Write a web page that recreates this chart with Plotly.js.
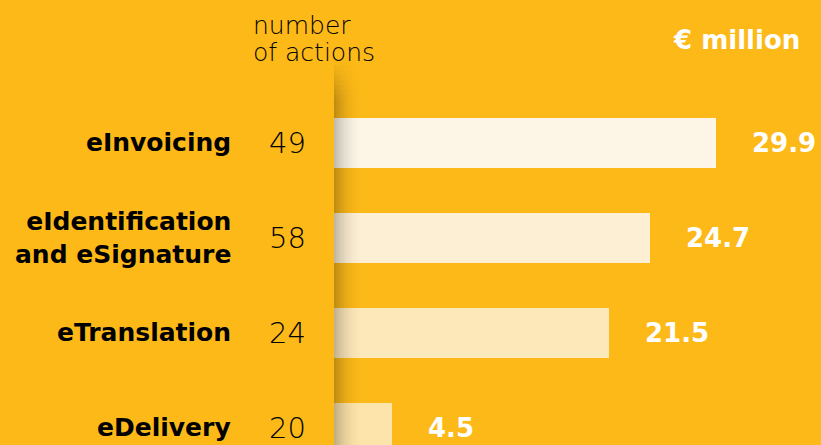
<!DOCTYPE html>
<html>
<head>
<meta charset="utf-8">
<script src="https://cdn.plot.ly/plotly-3.0.1.min.js"></script>
<style>
  html, body { margin: 0; padding: 0; background: #FCB918; }
  #chart { width: 821px; height: 445px; }
</style>
</head>
<body>
<div id="chart"></div>
<script>
// ---- data ----
const categories = ['eInvoicing', 'eIdentification and eSignature', 'eTranslation', 'eDelivery'];
const categoryLabels = ['eInvoicing', 'eIdentification<br>and eSignature', 'eTranslation', 'eDelivery'];
const fundingMillion = [29.9, 24.7, 21.5, 4.5];
const numberOfActions = [49, 58, 24, 20];
const headerLines = ['number', 'of actions'];
const unitLabel = '€ million';

// ---- styles ----
const BG = '#FCB918';
const barColors = ['#FDF6E7', '#FDEFD3', '#FDE8BA', '#FDE4AA'];
const W = 821, H = 445, LEFT = 334;
const plotW = W - LEFT;
const pxPerUnit = 12.78;
const px2paperX = p => (p - LEFT) / plotW;
const px2paperY = p => 1 - p / H;

const trace = {
  type: 'bar',
  orientation: 'h',
  x: fundingMillion,
  y: categories,
  width: 0.526,
  marker: { color: barColors, line: { width: 0 } },
  hoverinfo: 'none',
  showlegend: false
};

const annotations = [];
categories.forEach((c, i) => {
  annotations.push({
    xref: 'paper', yref: 'y', x: px2paperX(233), y: c,
    xanchor: 'right', yanchor: 'middle', align: 'right',
    text: categoryLabels[i], showarrow: false,
    font: { family: 'DejaVu Sans', size: 25, weight: 'bold', color: '#000000' }
  });
  annotations.push({
    xref: 'paper', yref: 'y', x: px2paperX(308), y: c,
    xanchor: 'right', yanchor: 'middle',
    text: String(numberOfActions[i]), showarrow: false,
    font: { family: 'DejaVu Sans', size: 29, weight: 200, color: '#000000' }
  });
  annotations.push({
    xref: 'x', yref: 'y', x: fundingMillion[i], y: c,
    xanchor: 'left', yanchor: 'middle', xshift: 34,
    text: fundingMillion[i].toFixed(1), showarrow: false,
    font: { family: 'DejaVu Sans', size: 26, weight: 'bold', color: '#ffffff' }
  });
});
const headerCenters = [25, 52];
headerLines.forEach((t, i) => {
  annotations.push({
    xref: 'paper', yref: 'paper', x: px2paperX(251), y: px2paperY(headerCenters[i]),
    xanchor: 'left', yanchor: 'middle', align: 'left',
    text: t, showarrow: false,
    font: { family: 'DejaVu Sans', size: 25, weight: 200, color: '#000000' }
  });
});
annotations.push({
  xref: 'paper', yref: 'paper', x: px2paperX(802), y: px2paperY(40),
  xanchor: 'right', yanchor: 'middle',
  text: unitLabel, showarrow: false,
  font: { family: 'DejaVu Sans', size: 26, weight: 'bold', color: '#ffffff' }
});

// soft shadow to the right of the left panel (style only)
const shapes = [];
const strips = 14, stripW = 2;
const fadeTop = 60, fadeEnd = 100, fadeSegs = 8;
for (let s = 0; s < strips; s++) {
  const t = 1 - s / strips;
  const op = 0.23 * t * t;
  const x0 = px2paperX(LEFT + s * stripW), x1 = px2paperX(LEFT + (s + 1) * stripW);
  for (let k = 0; k < fadeSegs; k++) {
    const segH = (fadeEnd - fadeTop) / fadeSegs;
    shapes.push({
      type: 'rect', xref: 'paper', yref: 'paper', layer: 'above',
      x0: x0, x1: x1,
      y0: px2paperY(fadeTop + (k + 1) * segH), y1: px2paperY(fadeTop + k * segH),
      fillcolor: 'rgba(0,0,0,' + (op * (k + 0.5) / fadeSegs).toFixed(4) + ')',
      line: { width: 0 }
    });
  }
  shapes.push({
    type: 'rect', xref: 'paper', yref: 'paper', layer: 'above',
    x0: x0, x1: x1, y0: 0, y1: px2paperY(fadeEnd),
    fillcolor: 'rgba(0,0,0,' + op.toFixed(4) + ')',
    line: { width: 0 }
  });
}

const centerFirst = 142.6, spacing = 95;
const layout = {
  width: W, height: H,
  margin: { l: LEFT, r: 0, t: 0, b: 0, pad: 0, autoexpand: false },
  paper_bgcolor: BG, plot_bgcolor: BG,
  xaxis: { range: [0, plotW / pxPerUnit], visible: false, fixedrange: true },
  yaxis: {
    type: 'category', categoryorder: 'array', categoryarray: categories,
    range: [(H - centerFirst) / spacing, -centerFirst / spacing],
    visible: false, fixedrange: true
  },
  bargap: 0,
  annotations: annotations,
  shapes: shapes,
  showlegend: false
};

Plotly.newPlot('chart', [trace], layout, { displayModeBar: false, staticPlot: true });
</script>
</body>
</html>
